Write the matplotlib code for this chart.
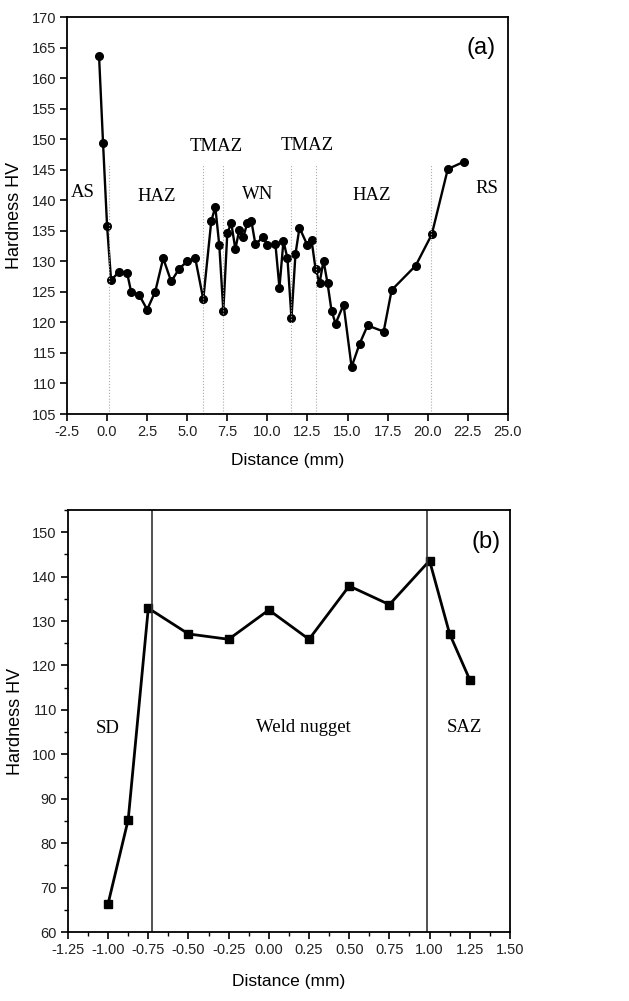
import matplotlib
matplotlib.use("Agg")
import matplotlib.pyplot as plt
from matplotlib.ticker import MultipleLocator, FormatStrFormatter

# panel (a): hardness profile across the weld
dist_a = [-0.5, -0.25, 0.0, 0.25, 0.75, 1.25, 1.5, 2.0, 2.5, 3.0, 3.5, 4.0, 4.5, 5.0,
          5.5, 6.0, 6.5, 6.75, 7.0, 7.25, 7.5, 7.75, 8.0, 8.25, 8.5, 8.75, 9.0, 9.25,
          9.75, 10.0, 10.5, 10.75, 11.0, 11.25, 11.5, 11.75, 12.0, 12.5, 12.75, 13.0,
          13.25, 13.5, 13.75, 14.0, 14.25, 14.75, 15.25, 15.75, 16.25, 17.25, 17.75,
          19.25, 20.25, 21.25, 22.25]
hv_a = [163.6, 149.3, 135.8, 126.9, 128.3, 128.1, 125.0, 124.5, 122.1, 125.0, 130.5,
        126.7, 128.8, 130.0, 130.5, 123.8, 136.6, 138.9, 132.6, 121.9, 134.7, 136.2,
        132.0, 135.2, 134.0, 136.3, 136.6, 132.8, 134.0, 132.6, 132.8, 125.7, 133.3,
        130.5, 120.7, 131.2, 135.5, 132.6, 133.5, 128.8, 126.4, 130.1, 126.4, 121.9,
        119.8, 122.9, 112.7, 116.5, 119.5, 118.5, 125.3, 129.3, 134.4, 145.1, 146.3]
bounds_a = [0.1, 6.0, 7.25, 11.5, 13.0, 20.2]
zones_a = ["AS", "HAZ", "TMAZ", "WN", "TMAZ", "HAZ", "RS"]
zone_x_a = [-1.5, 3.1, 6.8, 9.4, 12.45, 16.5, 23.7]
zone_y_a = [141.2, 140.6, 148.8, 140.9, 149.0, 140.8, 142.0]

# panel (b)
dist_b = [-1.0, -0.875, -0.75, -0.5, -0.25, 0.0, 0.25, 0.5, 0.75, 1.0, 1.125, 1.25]
hv_b = [66.4, 85.3, 132.9, 127.1, 125.9, 132.5, 125.9, 137.9, 133.7, 143.6, 127.1, 116.8]
bounds_b = [-0.724, 0.981]
zones_b = ["SD", "Weld nugget", "SAZ"]
zone_x_b = [-1.0, 0.215, 1.22]
zone_y_b = [105.8, 106.1, 106.0]

sans = "Liberation Sans"
serif = "Liberation Serif"

fig = plt.figure(figsize=(6.29, 10.01), dpi=100)
ax1 = fig.add_axes([0.1065, 0.5864, 0.701, 0.3966])
ax2 = fig.add_axes([0.108, 0.0689, 0.7027, 0.4216])


def style(ax):
    for s in ax.spines.values():
        s.set_linewidth(1.3)
    ax.tick_params(axis="both", which="major", direction="out", length=5, width=1.2,
                   labelsize=10.5, pad=3, top=False, right=False, labelcolor="#222222")
    ax.tick_params(axis="both", which="minor", direction="out", length=3, width=1.0,
                   top=False, right=False)
    for lab in ax.get_xticklabels() + ax.get_yticklabels():
        lab.set_fontfamily(sans)


# --- (a)
ax1.plot(dist_a, hv_a, "-o", color="black", lw=1.7, ms=5.5)
for b in bounds_a:
    ax1.plot([b, b], [105, 146], ls=":", color="#aaaaaa", lw=0.8)
for t, x, y in zip(zones_a, zone_x_a, zone_y_a):
    ax1.text(x, y, t, family=serif, fontsize=13.5, ha="center", va="center")
ax1.text(23.3, 165, "(a)", family=sans, fontsize=17, ha="center", va="center")
ax1.set_xlim(-2.5, 25.0)
ax1.set_ylim(105, 170)
ax1.xaxis.set_major_locator(MultipleLocator(2.5))
ax1.xaxis.set_major_formatter(FormatStrFormatter("%.1f"))
ax1.yaxis.set_major_locator(MultipleLocator(5))
ax1.set_xlabel("Distance (mm)", family=sans, fontsize=12.5, labelpad=10)
ax1.set_ylabel("Hardness HV", family=sans, fontsize=13, labelpad=6)
style(ax1)

# --- (b)
ax2.plot(dist_b, hv_b, "-s", color="black", lw=2.0, ms=6)
for b in bounds_b:
    ax2.axvline(b, color="#333333", lw=1.2)
for t, x, y in zip(zones_b, zone_x_b, zone_y_b):
    ax2.text(x, y, t, family=serif, fontsize=13.5, ha="center", va="center")
ax2.text(1.35, 147.8, "(b)", family=sans, fontsize=17, ha="center", va="center")
ax2.set_xlim(-1.25, 1.5)
ax2.set_ylim(60, 155)
ax2.xaxis.set_major_locator(MultipleLocator(0.25))
ax2.xaxis.set_minor_locator(MultipleLocator(0.125))
ax2.xaxis.set_major_formatter(FormatStrFormatter("%.2f"))
ax2.yaxis.set_major_locator(MultipleLocator(10))
ax2.yaxis.set_minor_locator(MultipleLocator(5))
ax2.set_xlabel("Distance (mm)", family=sans, fontsize=12.5, labelpad=12)
ax2.set_ylabel("Hardness HV", family=sans, fontsize=13, labelpad=6)
style(ax2)

fig.savefig("out.png", dpi=100)
